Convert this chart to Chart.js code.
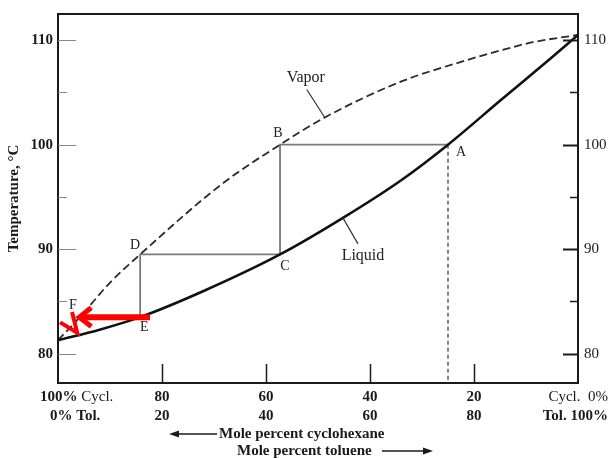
<!DOCTYPE html>
<html>
<head>
<meta charset="utf-8">
<script src="https://cdn.jsdelivr.net/npm/chart.js@4"></script>
<style>
html,body{margin:0;padding:0;background:#fff}
#wrap{width:611px;height:458px;position:relative}
</style>
</head>
<body>
<div id="wrap"><canvas id="myChart"></canvas></div>
<script>
// x = mole percent cyclohexane (100 on the left, 0 on the right), y = temperature in °C
const liquidX = [100, 92, 84.2, 72, 57.3, 45.2, 34, 25, 15, 5.4, 0]
const liquidT = [81.3, 82.3, 83.5, 86.0, 89.5, 93.0, 96.6, 100.0, 104.2, 108.2, 110.5]

const vaporX = [100, 95.8, 90, 84.2, 68.3, 57.3, 48.7, 34.2, 21.3, 15, 8.7, 0]
const vaporT = [81.3, 83.5, 86.8, 89.5, 96.3, 100.0, 102.6, 106.0, 108.1, 109.0, 109.8, 110.5]

// the stepping points A..F (tie lines run through them in this order)
const stepNames = ['A', 'B', 'C', 'D', 'E', 'F']
const stepX = [25, 57.3, 57.3, 84.2, 84.2, 95.8]
const stepT = [100, 100, 89.5, 89.5, 83.5, 83.5]

// red hand-drawn marks
const arrowShaftX = [82.3, 95.2]
const arrowShaftT = [83.5, 83.5]
const arrowHeadX = [93.6, 95.9, 93.6]
const arrowHeadT = [84.4, 83.5, 82.6]
const redMarkX = [99.6, 96.3, 97.3]
const redMarkT = [83.0, 82.0, 84.0]

const xTicks = [80, 60, 40, 20]
const tempMajor = [80, 90, 100, 110]
const tempMinor = [85, 95, 105]

const X_MIN = 0, X_MAX = 100
const T_MIN = 77.2, T_MAX = 112.5

const SERIF = '"Liberation Serif","DejaVu Serif",serif'

function pts(xs, ys){
    return xs.map((x, i) => ({x, y: ys[i]}))
}

const decorations = {
    id: 'decorations',
    afterDraw(chart){
        const {ctx, chartArea: a, scales: {x, y}} = chart
        ctx.save()
        ctx.fillStyle = '#1a1a1a'
        ctx.strokeStyle = '#1a1a1a'

        // frame
        ctx.lineWidth = 2
        ctx.strokeRect(a.left, a.top, a.right - a.left, a.bottom - a.top)

        // left ticks (thin, grey) and right ticks (dark)
        tempMajor.forEach(t => {
            const py = Math.round(y.getPixelForValue(t)) + 0.5
            ctx.strokeStyle = '#888'
            ctx.lineWidth = 1
            ctx.beginPath(); ctx.moveTo(a.left, py); ctx.lineTo(a.left + 18, py); ctx.stroke()
            ctx.strokeStyle = '#1a1a1a'
            ctx.lineWidth = 2
            ctx.beginPath(); ctx.moveTo(a.right, py); ctx.lineTo(a.right - 15, py); ctx.stroke()
        })
        tempMinor.forEach(t => {
            const py = Math.round(y.getPixelForValue(t)) + 0.5
            ctx.strokeStyle = '#888'
            ctx.lineWidth = 1
            ctx.beginPath(); ctx.moveTo(a.left, py); ctx.lineTo(a.left + 9, py); ctx.stroke()
            ctx.strokeStyle = '#1a1a1a'
            ctx.lineWidth = 1.5
            ctx.beginPath(); ctx.moveTo(a.right, py); ctx.lineTo(a.right - 8, py); ctx.stroke()
        })
        // bottom ticks
        ctx.strokeStyle = '#1a1a1a'
        ctx.lineWidth = 1.5
        xTicks.forEach(v => {
            const px = Math.round(x.getPixelForValue(v)) + 0.5
            ctx.beginPath(); ctx.moveTo(px, a.bottom); ctx.lineTo(px, a.bottom - 19); ctx.stroke()
        })

        // temperature labels
        ctx.textBaseline = 'middle'
        tempMajor.forEach(t => {
            const py = y.getPixelForValue(t)
            ctx.font = 'bold 15px ' + SERIF
            ctx.textAlign = 'right'
            ctx.fillText(String(t), a.left - 5, py)
            ctx.font = '15px ' + SERIF
            ctx.textAlign = 'left'
            ctx.fillText(String(t), a.right + 6, py)
        })

        // composition labels (cyclohexane on top row, toluene below)
        const row1 = a.bottom + 14, row2 = a.bottom + 33
        ctx.textAlign = 'center'
        ctx.font = 'bold 15px ' + SERIF
        xTicks.forEach(v => {
            const px = x.getPixelForValue(v)
            ctx.fillText(String(v), px, row1)
            ctx.fillText(String(100 - v), px, row2)
        })
        ctx.textAlign = 'left'
        ctx.font = 'bold 15px ' + SERIF
        ctx.fillText('100%', 40, row1)
        const w100 = ctx.measureText('100%').width
        ctx.font = '15px ' + SERIF
        ctx.fillText(' Cycl.', 40 + w100, row1)
        ctx.font = 'bold 15px ' + SERIF
        ctx.fillText('0% Tol.', 50, row2)
        ctx.textAlign = 'right'
        ctx.font = '15px ' + SERIF
        ctx.fillText('Cycl.  0%', 608, row1)
        ctx.font = 'bold 15px ' + SERIF
        ctx.fillText('Tol. 100%', 608, row2)

        // axis captions with arrows
        const row3 = a.bottom + 51, row4 = a.bottom + 68
        ctx.textAlign = 'left'
        ctx.font = 'bold 15px ' + SERIF
        ctx.fillText('Mole percent cyclohexane', 219, row3)
        ctx.fillText('Mole percent toluene', 237, row4)
        ctx.lineWidth = 1.5
        ctx.beginPath(); ctx.moveTo(177, row3); ctx.lineTo(217, row3); ctx.stroke()
        ctx.beginPath(); ctx.moveTo(169, row3); ctx.lineTo(179, row3 - 3.5); ctx.lineTo(179, row3 + 3.5); ctx.closePath(); ctx.fill()
        ctx.beginPath(); ctx.moveTo(382, row4); ctx.lineTo(424, row4); ctx.stroke()
        ctx.beginPath(); ctx.moveTo(433, row4); ctx.lineTo(423, row4 - 3.5); ctx.lineTo(423, row4 + 3.5); ctx.closePath(); ctx.fill()

        // y title
        ctx.save()
        ctx.translate(14, (a.top + a.bottom) / 2)
        ctx.rotate(-Math.PI / 2)
        ctx.textAlign = 'center'
        ctx.font = 'bold 15px ' + SERIF
        ctx.fillText('Temperature, °C', 0, 0)
        ctx.restore()

        // point letters
        const offs = {A: [13, 8], B: [-2, -11], C: [5, 12], D: [-5, -9], E: [4, 10], F: [-7, -12]}
        ctx.font = '14px ' + SERIF
        ctx.textAlign = 'center'
        ctx.fillStyle = '#222'
        stepNames.forEach((n, i) => {
            const px = x.getPixelForValue(stepX[i]), py = y.getPixelForValue(stepT[i])
            ctx.fillText(n, px + offs[n][0], py + offs[n][1])
        })

        // curve names with leader lines
        ctx.font = '16px ' + SERIF
        ctx.strokeStyle = '#333'
        ctx.lineWidth = 1.2
        const vp = {x: x.getPixelForValue(vaporX[6]), y: y.getPixelForValue(vaporT[6])}
        ctx.beginPath(); ctx.moveTo(vp.x, vp.y); ctx.lineTo(vp.x - 18, vp.y - 28); ctx.stroke()
        ctx.fillText('Vapor', vp.x - 19, vp.y - 40)
        const lp = {x: x.getPixelForValue(liquidX[5]), y: y.getPixelForValue(liquidT[5])}
        ctx.beginPath(); ctx.moveTo(lp.x, lp.y); ctx.lineTo(lp.x + 15, lp.y + 26); ctx.stroke()
        ctx.fillText('Liquid', lp.x + 20, lp.y + 38)

        ctx.restore()
    }
}

// Chart.js paints lower "order" on top, so the red marks get order 0
new Chart(document.getElementById('myChart'), {
    type: 'scatter',
    data: {
        datasets: [
            {
                label: 'tie lines',
                data: pts(stepX, stepT),
                showLine: true,
                borderColor: '#7a7a7a',
                borderWidth: 1.8,
                tension: 0,
                pointRadius: 0,
                order: 6
            },
            {
                label: 'A drop',
                data: pts([stepX[0], stepX[0]], [stepT[0], T_MIN]),
                showLine: true,
                borderColor: '#444',
                borderWidth: 1.3,
                borderDash: [4, 3],
                pointRadius: 0,
                order: 5
            },
            {
                label: 'Vapor',
                data: pts(vaporX, vaporT),
                showLine: true,
                borderColor: '#2a2a2a',
                borderWidth: 1.8,
                borderDash: [8, 4],
                cubicInterpolationMode: 'monotone',
                pointRadius: 0,
                order: 4
            },
            {
                label: 'Liquid',
                data: pts(liquidX, liquidT),
                showLine: true,
                borderColor: '#111',
                borderWidth: 2.6,
                cubicInterpolationMode: 'monotone',
                pointRadius: 0,
                order: 3
            },
            {
                label: 'arrow shaft',
                data: pts(arrowShaftX, arrowShaftT),
                showLine: true,
                borderColor: '#ff0000',
                borderWidth: 6,
                pointRadius: 0,
                order: 0
            },
            {
                label: 'arrow head',
                data: pts(arrowHeadX, arrowHeadT),
                showLine: true,
                borderColor: '#ff0000',
                borderWidth: 5,
                borderJoinStyle: 'miter',
                pointRadius: 0,
                order: 0
            },
            {
                label: 'red mark',
                data: pts(redMarkX, redMarkT),
                showLine: true,
                borderColor: '#ff0000',
                borderWidth: 4,
                borderJoinStyle: 'miter',
                pointRadius: 0,
                order: 0
            }
        ]
    },
    options: {
        responsive: true,
        maintainAspectRatio: false,
        animation: false,
        layout: {padding: {left: 58, right: 33, top: 14, bottom: 75}},
        scales: {
            x: {type: 'linear', min: X_MIN, max: X_MAX, reverse: true, display: false},
            y: {type: 'linear', min: T_MIN, max: T_MAX, display: false}
        },
        plugins: {
            legend: {display: false},
            tooltip: {enabled: false}
        }
    },
    plugins: [decorations]
})
</script>
</body>
</html>
